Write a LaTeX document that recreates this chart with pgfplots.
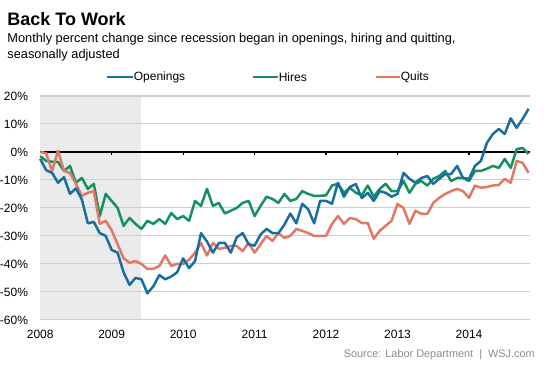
\documentclass[border=0pt]{standalone}
\usepackage{pgfplots}
\pgfplotsset{compat=1.18}
\usepackage{fontspec}
\setmainfont{Liberation Sans}
\definecolor{open}{HTML}{196EA0}
\definecolor{hire}{HTML}{14915F}
\definecolor{quit}{HTML}{E07864}
\definecolor{shade}{HTML}{EBEBEB}
\definecolor{gridc}{HTML}{CFCFCF}
\definecolor{srcc}{HTML}{8A8A8A}
\begin{document}
\begin{tikzpicture}
\begin{axis}[
  set layers,
  scale only axis,
  width=490pt, height=224pt,
  xmin=0, xmax=82.24,
  ymin=-60, ymax=20,
  axis line style={draw=none},
  major tick length=0pt,
  ytick={-60,-50,-40,-30,-20,-10,0,10,20},
  yticklabels={-60\%,-50\%,-40\%,-30\%,-20\%,-10\%,0\%,10\%,20\%},
  xtick={0,12,24,36,48,60,72},
  xticklabels={2008,2009,2010,2011,2012,2013,2014},
  ymajorgrids,
  grid style={gridc, line width=1.1pt},
  tick label style={font=\fontsize{12}{12}\selectfont},
  yticklabel style={anchor=east, inner sep=0pt, xshift=-12pt},
  xticklabel style={anchor=north, inner sep=0pt, yshift=-10pt},
  clip=false,
  line join=round,
]
\addplot[on layer=axis background, fill=shade, draw=none] coordinates {(0,-60) (0,20) (17,20) (17,-60)} -- cycle;
\addplot[black, line width=1.5pt] coordinates {(0,0) (82.24,0)};
\draw[black, line width=1.2pt] (axis cs:12,0) -- ++(0pt,-3.5pt);
\draw[black, line width=1.2pt] (axis cs:24,0) -- ++(0pt,-3.5pt);
\draw[black, line width=1.2pt] (axis cs:36,0) -- ++(0pt,-3.5pt);
\draw[black, line width=1.2pt] (axis cs:48,0) -- ++(0pt,-3.5pt);
\draw[black, line width=1.2pt] (axis cs:60,0) -- ++(0pt,-3.5pt);
\draw[black, line width=1.2pt] (axis cs:72,0) -- ++(0pt,-3.5pt);
% Hires
\addplot[hire, line width=2.5pt] coordinates {
(0,-1.5) (1,-3.2) (2,-3.5) (3,-3.6) (4,-6.8) (5,-5) (6,-11) (7,-9.3) (8,-13.2) (9,-11.4)
(10,-22.9) (11,-15) (12,-17.5) (13,-20) (14,-26.4) (15,-23.6) (16,-25.7) (17,-27.5) (18,-24.6) (19,-25.7)
(20,-24) (21,-25.7) (22,-21.8) (23,-24) (24,-22.9) (25,-24.6) (26,-17.5) (27,-19.3) (28,-13.2) (29,-19.3)
(30,-18.2) (31,-22) (32,-21) (33,-20) (34,-18.2) (35,-17.5) (36,-22.9) (37,-19.3) (38,-16) (39,-16.8)
(40,-18.2) (41,-15) (42,-17.5) (43,-16.8) (44,-14) (45,-15) (46,-15.7) (47,-15.7) (48,-15.5) (49,-12)
(50,-11.4) (51,-14.6) (52,-12.8) (53,-14.6) (54,-15.5) (55,-12) (56,-16) (57,-13.2) (58,-11.4) (59,-14)
(60,-14) (61,-10.4) (62,-14.6) (63,-11.4) (64,-10.4) (65,-12) (66,-9.6) (67,-8.6) (68,-6.8) (69,-10.4)
(70,-9.3) (71,-9.3) (72,-10.4) (73,-6.8) (74,-6.8) (75,-6) (76,-5) (77,-5.7) (78,-2.5) (79,-5.7)
(80,1) (81,1.4) (82,-0.7)
};
% Quits
\addplot[quit, line width=2.5pt] coordinates {
(0,0) (1,-0.5) (2,-6.8) (3,0.4) (4,-6.8) (5,-7.5) (6,-11.4) (7,-15.7) (8,-14.6) (9,-14)
(10,-25.7) (11,-24.6) (12,-28) (13,-33) (14,-38) (15,-39.6) (16,-39) (17,-40) (18,-41.8) (19,-41.8)
(20,-40.7) (21,-37) (22,-40.7) (23,-40) (24,-40) (25,-38.5) (26,-36) (27,-32.5) (28,-37) (29,-32.5)
(30,-34.6) (31,-34.3) (32,-33.6) (33,-33.6) (34,-35.4) (35,-32.5) (36,-36) (37,-33) (38,-30) (39,-31.8)
(40,-29) (41,-30.7) (42,-30) (43,-27.5) (44,-28.2) (45,-29) (46,-30) (47,-30) (48,-30) (49,-25.7)
(50,-22.9) (51,-25.7) (52,-23.6) (53,-24) (54,-25.4) (55,-25.4) (56,-31) (57,-28.2) (58,-26.4) (59,-24.6)
(60,-18.6) (61,-20) (62,-25.7) (63,-21) (64,-22.1) (65,-22.1) (66,-18.2) (67,-16.4) (68,-15) (69,-14)
(70,-13.2) (71,-14) (72,-16.4) (73,-12) (74,-12.8) (75,-12.5) (76,-12) (77,-11.8) (78,-9.6) (79,-11)
(80,-3.2) (81,-3.9) (82,-7.5)
};
% Openings
\addplot[open, line width=2.5pt] coordinates {
(0,-2.5) (1,-6.5) (2,-7.5) (3,-11) (4,-9) (5,-15) (6,-13) (7,-17) (8,-25.5) (9,-25)
(10,-29) (11,-30) (12,-35) (13,-36) (14,-43) (15,-47.5) (16,-45) (17,-45.5) (18,-50.5) (19,-48)
(20,-44) (21,-45.5) (22,-44.5) (23,-43) (24,-38) (25,-41.5) (26,-39) (27,-29) (28,-32) (29,-36)
(30,-32.5) (31,-32.5) (32,-36) (33,-30.5) (34,-29) (35,-33) (36,-33.5) (37,-29.5) (38,-27.5) (39,-29)
(40,-29) (41,-26) (42,-22) (43,-25.5) (44,-18.5) (45,-20.5) (46,-25.5) (47,-17.5) (48,-17.5) (49,-18.5)
(50,-11) (51,-16) (52,-12.5) (53,-11.5) (54,-16.5) (55,-14.6) (56,-17.5) (57,-14) (58,-14.6) (59,-16)
(60,-15) (61,-7.5) (62,-9.6) (63,-11) (64,-9.3) (65,-8.6) (66,-11.4) (67,-9.6) (68,-7.9) (69,-7.9)
(70,-5) (71,-9.3) (72,-9.6) (73,-5) (74,-3.2) (75,3.2) (76,6.4) (77,8.2) (78,6.4) (79,12)
(80,8.6) (81,11.8) (82,15.4)
};
\end{axis}
% title and subtitle
\node[anchor=base west, inner sep=0pt, font=\fontsize{18}{18}\selectfont\bfseries] at (-33pt,294pt) {Back To Work};
\node[anchor=base west, inner sep=0pt, font=\fontsize{12.8}{12.8}\selectfont] at (-33pt,277pt) {Monthly percent change since recession began in openings, hiring and quitting,};
\node[anchor=base west, inner sep=0pt, font=\fontsize{12.8}{12.8}\selectfont] at (-33pt,261pt) {seasonally adjusted};
% legend
\draw[open, line width=2.5pt] (67pt,243pt) -- (93pt,243pt);
\node[anchor=west, inner sep=0pt, font=\fontsize{12}{12}\selectfont] at (93.5pt,243pt) {Openings};
\draw[hire, line width=2.5pt] (213pt,243pt) -- (238pt,243pt);
\node[anchor=west, inner sep=0pt, font=\fontsize{12}{12}\selectfont] at (238.5pt,243pt) {Hires};
\draw[quit, line width=2.5pt] (336pt,243pt) -- (360pt,243pt);
\node[anchor=west, inner sep=0pt, font=\fontsize{12}{12}\selectfont] at (360.5pt,243pt) {Quits};
% source
\node[anchor=base east, inner sep=0pt, font=\fontsize{10.9}{10.9}\selectfont, text=srcc] at (495pt,-38pt) {Source: Labor Department \ | \ WSJ.com};
\path (-40pt,-49pt) rectangle (513pt,320pt);
\end{tikzpicture}
\end{document}
